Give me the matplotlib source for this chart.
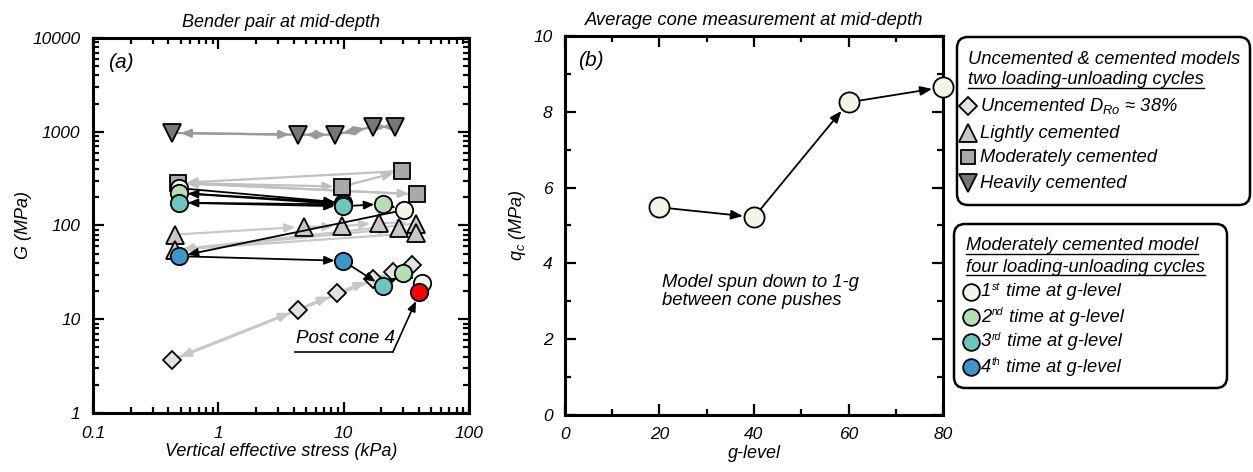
import numpy as np
import matplotlib
matplotlib.use("Agg")
import matplotlib.pyplot as plt
from matplotlib.ticker import FuncFormatter, MultipleLocator
from matplotlib.patches import FancyBboxPatch

plt.rcParams['font.family'] = ['Liberation Sans', 'DejaVu Sans']
plt.rcParams['font.style'] = 'italic'
plt.rcParams['mathtext.fontset'] = 'custom'
plt.rcParams['mathtext.rm'] = 'Liberation Sans:italic'
plt.rcParams['mathtext.it'] = 'Liberation Sans:italic'

# ---- panel (a): bender element G vs vertical effective stress ----
# uncemented, D_Ro ~ 38 %
unc_s = [0.43, 4.3, 8.8, 17.3, 25.0, 35.0]
unc_G = [3.7, 12.6, 18.9, 26.7, 32.0, 38.0]
unc_path = [0, 1, 2, 3, 4, 5, 0]

# lightly cemented
lig_s = [0.45, 0.45, 4.8, 9.7, 19.0, 27.5, 38.0, 38.0]
lig_G = [80, 55, 97, 98, 107, 93, 105, 83]
lig_path = [0, 2, 3, 4, 6, 1, 5, 7, 1]

# moderately cemented
mod_s = [0.48, 9.7, 29.0, 38.7]
mod_G = [284, 260, 381, 215]
mod_path = [0, 1, 2, 0, 3, 0]

# heavily cemented
hvy_s = [0.43, 4.3, 8.5, 17.3, 25.7]
hvy_G = [970, 930, 930, 1130, 1130]
hvy_path = [0, 1, 2, 3, 4, 3, 2, 1, 0]

# moderately cemented model, four cycles (visit = time at g-level), in loading order
cyc_s = [0.49, 9.9, 0.49, 9.9, 0.49, 9.9, 20.5, 30.3, 0.49, 9.9, 20.5, 30.0, 42.0]
cyc_G = [250, 175, 222, 168, 175, 160, 170, 146, 47, 42, 22.5, 31, 24.5]
cyc_visit = [1, 1, 2, 2, 3, 3, 2, 1, 4, 4, 3, 2, 1]

post_s = 40.0
post_G = 19.7

# ---- panel (b): average cone resistance ----
g_level = [20, 40, 60, 80]
qc = [5.48, 5.22, 8.25, 8.65]

visit_col = {1: '#eef6e6', 2: '#b5dfb0', 3: '#6cc6bd', 4: '#3c96c8'}

fig = plt.figure(figsize=(12.53, 4.72), dpi=100)
ax1 = fig.add_axes([0.0742, 0.125, 0.300, 0.7945])
ax2 = fig.add_axes([0.4509, 0.1208, 0.3017, 0.8029])


def arrows(ax, xs, ys, path, color, lw, z, sb=6):
    for a, b in zip(path[:-1], path[1:]):
        ax.annotate('', xy=(xs[b], ys[b]), xytext=(xs[a], ys[a]),
                    arrowprops=dict(arrowstyle='-|>,head_length=0.6,head_width=0.25',
                                    color=color, lw=lw, shrinkA=4, shrinkB=sb),
                    zorder=z)


arrows(ax1, unc_s, unc_G, unc_path, '#c8c8c8', 2.0, 2)
arrows(ax1, lig_s, lig_G, lig_path, '#c8c8c8', 1.6, 2)
arrows(ax1, mod_s, mod_G, mod_path, '#c0c0c0', 1.6, 2)
arrows(ax1, hvy_s, hvy_G, hvy_path, '#9a9a9a', 1.6, 2)
arrows(ax1, cyc_s, cyc_G, list(range(len(cyc_s))), 'black', 1.3, 4)

mk = dict(markeredgecolor='black', markeredgewidth=1.3, linestyle='none')
ax1.plot(unc_s, unc_G, marker='D', markersize=9.5, markerfacecolor='#e2e2e2', zorder=3, **mk)
ax1.plot(lig_s, lig_G, marker='^', markersize=13, markerfacecolor='#c8c8c8', zorder=3, **mk)
ax1.plot(mod_s, mod_G, marker='s', markersize=12, markerfacecolor='#a9a9a9', zorder=3, **mk)
ax1.plot(hvy_s, hvy_G, marker='v', markersize=13, markerfacecolor='#777777', zorder=3, **mk)
for s, g, v in zip(cyc_s, cyc_G, cyc_visit):
    ax1.plot(s, g, marker='o', markersize=12.5, markerfacecolor=visit_col[v], zorder=5, **mk)
ax1.plot(post_s, post_G, marker='o', markersize=12.5, markerfacecolor='#ff0000', zorder=6, **mk)

# "Post cone 4" leader
ax1.plot([4.1, 24.8], [4.5, 4.5], color='black', lw=1.2, zorder=4)
ax1.annotate('', xy=(37.8, 15.6), xytext=(24.8, 4.5),
             arrowprops=dict(arrowstyle='-|>,head_length=0.6,head_width=0.25',
                             color='black', lw=1.2, shrinkA=0, shrinkB=0), zorder=4)
ax1.text(4.2, 6.2, 'Post cone 4', fontsize=13.5, va='center', ha='left')

ax1.set_xscale('log')
ax1.set_yscale('log')
ax1.set_xlim(0.1, 100)
ax1.set_ylim(1, 10000)
fmt = FuncFormatter(lambda v, _: f'{v:g}')
ax1.xaxis.set_major_formatter(fmt)
ax1.yaxis.set_major_formatter(fmt)
ax1.set_xlabel('Vertical effective stress (kPa)', fontsize=13, labelpad=2)
ax1.set_ylabel('G (MPa)', fontsize=13, labelpad=0)
ax1.set_title('Bender pair at mid-depth', fontsize=13, pad=8)
ax1.text(0.04, 0.935, '(a)', transform=ax1.transAxes, fontsize=15, va='center')

# panel (b)
for a in range(len(g_level) - 1):
    ax2.annotate('', xy=(g_level[a + 1], qc[a + 1]), xytext=(g_level[a], qc[a]),
                 arrowprops=dict(arrowstyle='-|>,head_length=0.7,head_width=0.28',
                                 color='black', lw=1.3, shrinkA=7, shrinkB=8), zorder=3)
ax2.plot(g_level, qc, marker='o', markersize=14.5, markerfacecolor=visit_col[1],
         zorder=4, clip_on=False, **mk)
ax2.text(20.5, 3.25, 'Model spun down to 1-g\nbetween cone pushes', fontsize=13.3,
         va='center', ha='left', linespacing=1.1)
ax2.set_xlim(0, 80)
ax2.set_ylim(0, 10)
ax2.xaxis.set_major_locator(MultipleLocator(20))
ax2.xaxis.set_minor_locator(MultipleLocator(10))
ax2.yaxis.set_major_locator(MultipleLocator(2))
ax2.yaxis.set_minor_locator(MultipleLocator(1))
ax2.set_xlabel('g-level', fontsize=13, labelpad=2)
ax2.set_ylabel(r'$q_c$ (MPa)', fontsize=13, labelpad=4)
ax2.set_title('Average cone measurement at mid-depth', fontsize=13.2, pad=8)
ax2.text(0.034, 0.935, '(b)', transform=ax2.transAxes, fontsize=15, va='center')

for ax in (ax1, ax2):
    for sp in ax.spines.values():
        sp.set_linewidth(2.2)
    ax.tick_params(which='both', direction='in', top=True, right=True, width=1.6,
                   labelsize=12.5, color='black')
    ax.tick_params(which='major', length=8, pad=9)
    ax.tick_params(which='minor', length=4.5)

# ---- legend boxes, drawn on an overlay in pixel coordinates ----
ov = fig.add_axes([0, 0, 1, 1], zorder=10)
ov.set_xlim(0, 1253)
ov.set_ylim(472, 0)
ov.axis('off')

for (x0, y0, x1, y1) in [(957, 37, 1250, 205), (954, 224, 1227, 388)]:
    ov.add_patch(FancyBboxPatch((x0, y0), x1 - x0, y1 - y0,
                                boxstyle='round,pad=0,rounding_size=11',
                                facecolor='white', edgecolor='black', lw=1.8))

hdr1 = [('Uncemented & cemented models', 59, False),
        ('two loading-unloading cycles', 80, True)]
hdr2 = [('Moderately cemented model', 246, True),
        ('four loading-unloading cycles', 267, True)]
items1 = [('D', 9, '#e2e2e2', r'Uncemented $D_{Ro}$ ≈ 38%', 106),
          ('^', 12.5, '#c8c8c8', 'Lightly cemented', 133),
          ('s', 10.5, '#a9a9a9', 'Moderately cemented', 157),
          ('v', 12.5, '#777777', 'Heavily cemented', 183)]
items2 = [('1', 'st', visit_col[1], 292),
          ('2', 'nd', visit_col[2], 317),
          ('3', 'rd', visit_col[3], 342),
          ('4', 'th', visit_col[4], 367)]
fs = 13.2

headers = []
for txt, y, ul in hdr1:
    headers.append((ov.text(968, y, txt, fontsize=fs, va='center', ha='left'), ul))
for txt, y, ul in hdr2:
    headers.append((ov.text(966, y, txt, fontsize=fs, va='center', ha='left'), ul))
for m, ms, fc, txt, y in items1:
    ov.plot(968, y, marker=m, markersize=ms, markerfacecolor=fc, **mk)
    ov.text(980, y, txt, fontsize=fs, va='center', ha='left')

fig.canvas.draw()
r = fig.canvas.get_renderer()
inv = ov.transData.inverted()


def right_edge(t):
    bb = t.get_window_extent(r)
    return inv.transform([[bb.x1, bb.y0]])[0][0]


# ordinal entries: number, small superscript, rest of the label
for num, sup, fc, y in items2:
    ov.plot(971, y, marker='o', markersize=12, markerfacecolor=fc, **mk)
    t1 = ov.text(981, y, num, fontsize=fs, va='center', ha='left')
    x2 = right_edge(t1)
    t2 = ov.text(x2 + 0.5, y - 5, sup, fontsize=7.5, va='center', ha='left')
    x3 = right_edge(t2)
    ov.text(x3 + 1, y, ' time at g-level', fontsize=fs, va='center', ha='left')

# underline the header lines
for t, ul in headers:
    if not ul:
        continue
    bb = t.get_window_extent(r)
    (xa, ya), (xb, yb) = inv.transform([[bb.x0, bb.y0], [bb.x1, bb.y1]])
    ov.plot([xa, xb], [ya - 1, ya - 1], color='black', lw=1.0)

fig.savefig('out.png', dpi=100)
